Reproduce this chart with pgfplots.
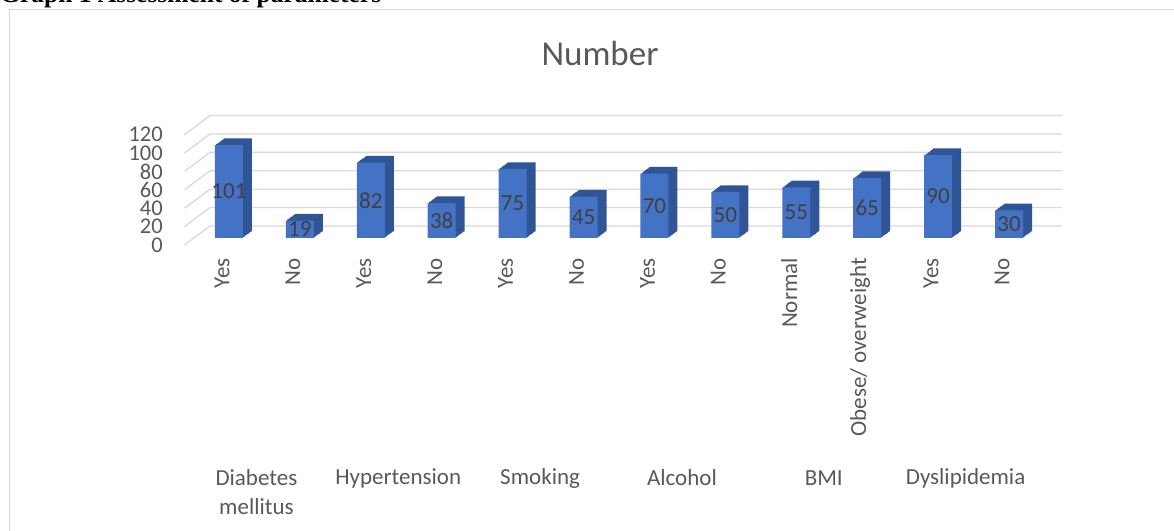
\documentclass[border=0pt]{standalone}
\usepackage{pgfplots}
\pgfplotsset{compat=1.18}
\usepackage{pgfplotstable}
\usepackage{fontspec}
\setmainfont{Carlito}
\newfontfamily\capfont{Liberation Serif}
\definecolor{barfront}{HTML}{4472C4}
\definecolor{barside}{HTML}{2F5597}
\definecolor{gridc}{HTML}{D9D9D9}
\definecolor{txt}{HTML}{595959}
\definecolor{lbl}{HTML}{404040}
\pgfplotstableread{
x v
0 101
1 19
2 82
3 38
4 75
5 45
6 70
7 50
8 55
9 65
10 90
11 30
}\datatable
\begin{document}
\begin{tikzpicture}[x=1pt,y=1pt]
\useasboundingbox (0,0) rectangle (1174,530);
% caption (cut at top as in the reference)
\node[anchor=base west, inner sep=0pt, font=\capfont\bfseries\fontsize{25.5}{28}\selectfont] at (0,527.5) {Graph 1 Assessment of parameters};
% chart frame
\draw[gridc, line width=1.2pt] (9.5,-5) -- (9.5,520.5) -- (1180,520.5);
% title
\node[font=\fontsize{35}{40}\selectfont, text=txt] at (600,477) {Number};
\begin{axis}[
  at={(193.5pt,292pt)}, anchor=south west,
  scale only axis, width=851pt, height=110.4pt,
  xmin=-0.5, xmax=11.5, ymin=0, ymax=120,
  axis lines=none, clip=false,
  /pgf/number format/assume math mode=true,
]
% walls / gridlines
\pgfplotsinvokeforeach{0,20,...,120}{
  \draw[gridc, line width=1.3pt] ([xshift=-9pt,yshift=-7pt]axis cs:-0.5,#1) -- ([xshift=16.5pt,yshift=12pt]axis cs:-0.5,#1) -- ([xshift=17pt,yshift=12pt]axis cs:11.5,#1);
  \node[anchor=east, inner sep=0pt, text=txt, font=\fontsize{22.5}{25}\selectfont] at ([xshift=-30.5pt,yshift=-7pt]axis cs:-0.5,#1) {#1};
}
% bar depth
\pgfplotsinvokeforeach{8,7,...,1}{
  \addplot[ybar, bar width=28pt, bar shift=0pt, fill=barside, draw=none, xshift=1.125pt*#1, yshift=0.84pt*#1] table[x=x,y=v] {\datatable};
}
% bar front
\addplot[ybar, bar width=28pt, bar shift=0pt, fill=barfront, draw=none] table[x=x,y=v] {\datatable};
% value labels
\addplot[draw=none, mark=none, nodes near coords, point meta=explicit,
  every node near coord/.append style={anchor=center, text=lbl, font=\fontsize{23}{26}\selectfont}]
  table[x=x, y expr=\thisrow{v}/2, meta=v] {\datatable};
% category tick labels
\foreach \i/\t in {0/Yes,1/No,2/Yes,3/No,4/Yes,5/No,6/Yes,7/No,8/Normal,9/{Obese/ overweight},10/Yes,11/No}{
  \edef\tmp{\noexpand\node[rotate=90, anchor=east, inner sep=0pt, text=txt, font=\noexpand\fontsize{23}{26}\noexpand\selectfont] at ([xshift=-7pt,yshift=-20pt]axis cs:\i,0) {\t};}\tmp
}
% group labels
\node[text=txt, font=\fontsize{23}{26}\selectfont] at ([xshift=-8pt,yshift=-240pt]axis cs:0.5,0) {Diabetes};
\node[text=txt, font=\fontsize{23}{26}\selectfont] at ([xshift=-8pt,yshift=-269pt]axis cs:0.5,0) {mellitus};
\node[text=txt, font=\fontsize{23}{26}\selectfont] at ([xshift=-8pt,yshift=-240pt]axis cs:2.5,0) {Hypertension};
\node[text=txt, font=\fontsize{23}{26}\selectfont] at ([xshift=-8pt,yshift=-240pt]axis cs:4.5,0) {Smoking};
\node[text=txt, font=\fontsize{23}{26}\selectfont] at ([xshift=-8pt,yshift=-240pt]axis cs:6.5,0) {Alcohol};
\node[text=txt, font=\fontsize{23}{26}\selectfont] at ([xshift=-8pt,yshift=-240pt]axis cs:8.5,0) {BMI};
\node[text=txt, font=\fontsize{23}{26}\selectfont] at ([xshift=-8pt,yshift=-240pt]axis cs:10.5,0) {Dyslipidemia};
\end{axis}
\end{tikzpicture}
\end{document}
